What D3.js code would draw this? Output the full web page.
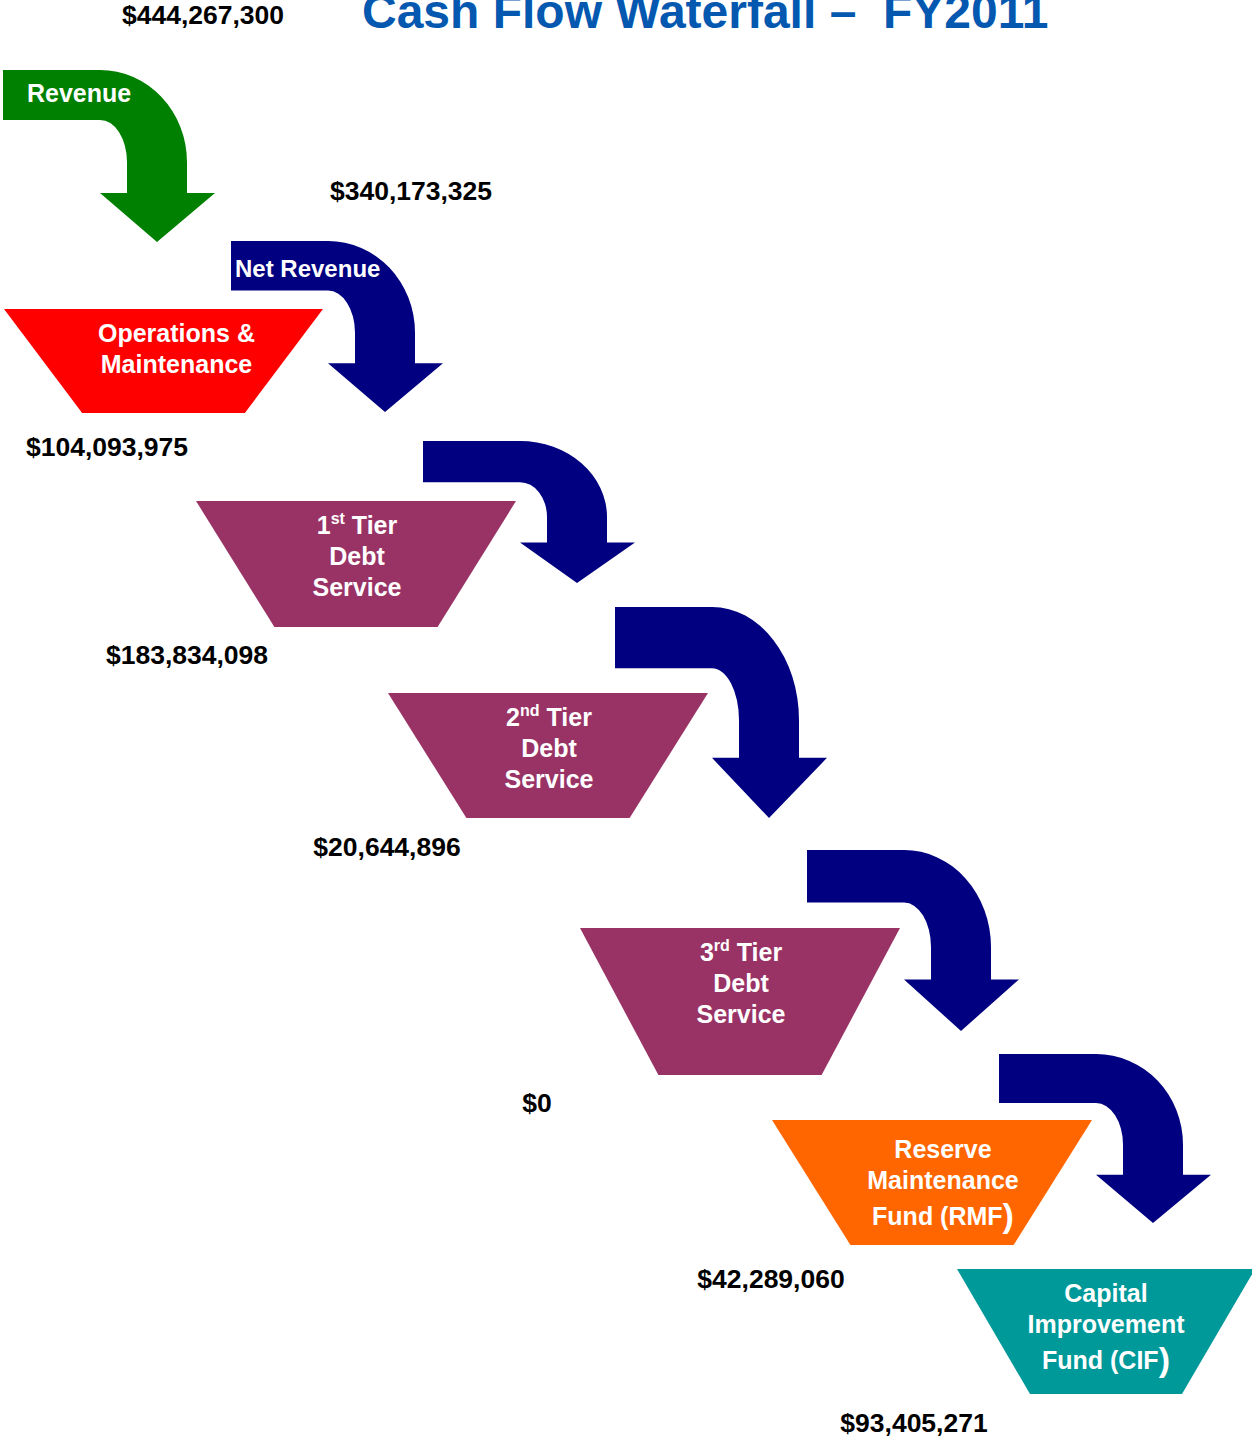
<!DOCTYPE html>
<html>
<head>
<meta charset="utf-8">
<script src="https://cdn.jsdelivr.net/npm/d3@7"></script>
<style>
  body { margin: 0; background: #fff; }
  text { font-family: "Liberation Sans", Arial, sans-serif; font-weight: bold; }
</style>
</head>
<body>
<div id="chart"></div>
<script>
// chart data
var title = "Cash Flow Waterfall \u2013  FY2011";
var flowLabels = ["Revenue", "Net Revenue", "", "", "", ""];
var flowAmounts = [444267300, 340173325];
var outflowLines = [
  [["Operations &"], ["Maintenance"]],
  [["1", "st", " Tier"], ["Debt"], ["Service"]],
  [["2", "nd", " Tier"], ["Debt"], ["Service"]],
  [["3", "rd", " Tier"], ["Debt"], ["Service"]],
  [["Reserve"], ["Maintenance"], ["Fund (RMF", "", ")"]],
  [["Capital"], ["Improvement"], ["Fund (CIF", "", ")"]]
];
var outflowAmounts = [104093975, 183834098, 20644896, 0, 42289060, 93405271];
var outflowColors = ["#ff0000", "#993366", "#993366", "#993366", "#ff6600", "#009999"];
var flowColors = ["#008000", "#000080", "#000080", "#000080", "#000080", "#000080"];

// layout
var width = 1252, height = 1441;
var steps = d3.range(6);

var svg = d3.select("#chart")
  .append("svg")
  .attr("width", width)
  .attr("height", height);

// step -> position scales (the diagram walks down and to the right)
var arrowX = d3.scaleLinear().domain(steps).range([3, 231, 423, 615, 807, 999]);
var arrowY = d3.scaleLinear().domain(steps).range([70, 241, 441, 607, 850, 1054]);
var arrowH = d3.scaleLinear().domain(steps).range([172, 171, 142, 211, 181, 169]);

var trapX = d3.scaleLinear().domain(steps).range([4, 196, 388, 580, 772, 957]);
var trapY = d3.scaleLinear().domain(steps).range([309, 501, 693, 928, 1120, 1269]);
var trapH = d3.scaleLinear().domain(steps).range([104, 126, 125, 147, 125, 125]);
var trapW = d3.scaleLinear().domain(steps).range([319, 320, 320, 320, 320, 298]);
var textDx = [13, 1, 1, 1, 11, 0];
var textDy = [24, 24, 24, 24, 29, 24];
var labelDx = [103, -9, -1, -43, -1, -43];
var labelDy = [34, 28, 29, 28, 34, 29];

var money = d3.format("$,");

// bent arrow shape
function arrowPath(i) {
  var L = arrowX(i), T = arrowY(i), h = arrowH(i);
  var t = h * 0.29;
  var H = T + h * 0.715;
  var cx = L + 97, inner = L + 124, outer = L + 184;
  var ryO = (H - T) * 0.75, ryI = ryO - t;
  return "M" + L + "," + T +
    "H" + cx +
    "A87," + ryO + " 0 0 1 " + outer + "," + (T + ryO) +
    "V" + H +
    "H" + (L + 212) +
    "L" + (L + 154) + "," + (T + h) +
    "L" + (L + 97) + "," + H +
    "H" + inner +
    "V" + (T + ryO) +
    "A27," + ryI + " 0 0 0 " + cx + "," + (T + t) +
    "H" + L + "Z";
}

function trapPath(i) {
  var x = trapX(i), y = trapY(i), w = trapW(i), h = trapH(i);
  var inset = w * 0.245;
  return "M" + x + "," + y + "H" + (x + w) +
    "L" + (x + w - inset) + "," + (y + h) +
    "H" + (x + inset) + "Z";
}

// arrows
svg.selectAll("path.flow")
  .data(steps)
  .enter()
  .append("path")
    .attr("class", "flow")
    .attr("d", arrowPath)
    .attr("fill", function(i) { return flowColors[i]; });

svg.selectAll("text.flowLabel")
  .data(steps.filter(function(i) { return flowLabels[i]; }))
  .enter()
  .append("text")
    .attr("class", "flowLabel")
    .attr("x", function(i) { return arrowX(i) + (i == 0 ? 24 : 4); })
    .attr("y", function(i) { return arrowY(i) + (i == 0 ? 23 : 28); })
    .attr("dy", "0.35em")
    .attr("fill", "#fff")
    .style("font-size", function(i) { return i == 0 ? "25px" : "24px"; })
    .text(function(i) { return flowLabels[i]; });

// trapezoids
svg.selectAll("path.outflow")
  .data(steps)
  .enter()
  .append("path")
    .attr("class", "outflow")
    .attr("d", trapPath)
    .attr("fill", function(i) { return outflowColors[i]; });

var boxText = svg.selectAll("g.boxText")
  .data(steps)
  .enter()
  .append("g")
    .attr("class", "boxText");

boxText.each(function(i) {
  var g = d3.select(this);
  var cx = trapX(i) + trapW(i) / 2 + textDx[i];
  outflowLines[i].forEach(function(parts, k) {
    var bigParen = parts.length == 3 && parts[1] == "";
    var y = trapY(i) + textDy[i] + k * 31 + (bigParen ? 5 : 0);
    var txt = g.append("text")
      .attr("x", cx)
      .attr("y", y)
      .attr("dy", "0.35em")
      .attr("text-anchor", "middle")
      .attr("fill", "#fff")
      .style("font-size", "25px");
    if (parts.length == 1) {
      txt.text(parts[0]);
    } else if (bigParen) {
      txt.append("tspan").text(parts[0]);
      txt.append("tspan").style("font-size", "34px").attr("dy", 2).text(parts[2]);
    } else {
      txt.append("tspan").text(parts[0]);
      txt.append("tspan").style("font-size", "16px").attr("dy", -10).text(parts[1]);
      txt.append("tspan").attr("dy", 10).text(parts[2]);
    }
  });
});

// amount labels under each outflow
svg.selectAll("text.outAmount")
  .data(steps)
  .enter()
  .append("text")
    .attr("class", "outAmount")
    .attr("x", function(i) { return trapX(i) + labelDx[i]; })
    .attr("y", function(i) { return trapY(i) + trapH(i) + labelDy[i]; })
    .attr("dy", "0.35em")
    .attr("text-anchor", "middle")
    .attr("fill", "#000")
    .style("font-size", "26.5px")
    .text(function(i) { return money(outflowAmounts[i]); });

// amounts carried by the first two arrows
svg.selectAll("text.flowAmount")
  .data(flowAmounts)
  .enter()
  .append("text")
    .attr("class", "flowAmount")
    .attr("x", function(d, i) { return i == 0 ? 203 : arrowX(i) + 180; })
    .attr("y", function(d, i) { return i == 0 ? 15 : arrowY(i) - 50; })
    .attr("dy", "0.35em")
    .attr("text-anchor", "middle")
    .attr("fill", "#000")
    .style("font-size", "26.5px")
    .text(function(d) { return money(d); });

// title
svg.append("text")
  .attr("x", 362)
  .attr("y", 28)
  .attr("xml:space", "preserve")
  .style("white-space", "pre")
  .attr("fill", "#0558b0")
  .style("font-size", "48px")
  .text(title);
</script>
</body>
</html>
